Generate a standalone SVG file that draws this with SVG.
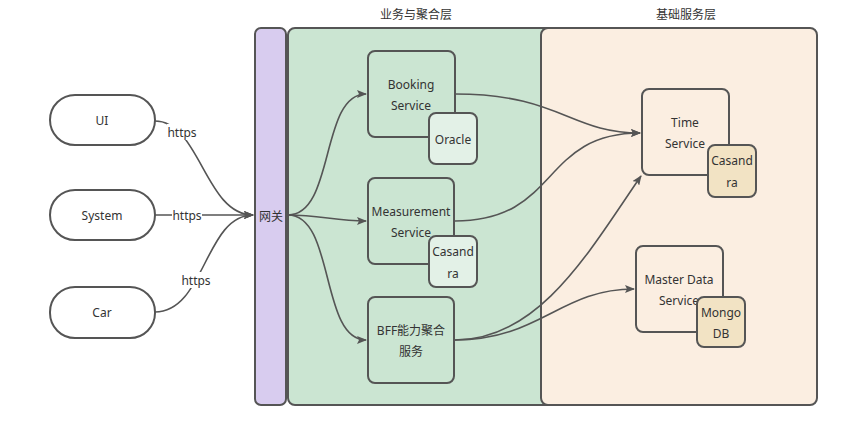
<svg xmlns="http://www.w3.org/2000/svg" width="853" height="425" viewBox="0 0 853 425">
<defs>
<marker id="arr" markerWidth="10" markerHeight="8" refX="9" refY="4" orient="auto" markerUnits="userSpaceOnUse">
<path d="M0,0 L10,4 L0,8 L2,4 Z" fill="#555"/>
</marker>
<style>
text{font-family:"Noto Sans","Noto Sans CJK SC",sans-serif;font-size:12px;fill:#333;text-anchor:middle;dominant-baseline:central}
.box{stroke:#555;stroke-width:2}
.edge{fill:none;stroke:#555;stroke-width:1.6}
.lbl{fill:#fff}
</style>
</defs>
<rect width="853" height="425" fill="#fff"/>
<text x="416" y="14">业务与聚合层</text>
<text x="686" y="14">基础服务层</text>
<g id="layer-biz"><rect class="box" x="288" y="28" width="269" height="377" rx="7" fill="#cbe5d2"/></g>
<g id="layer-base"><rect class="box" x="541" y="28" width="276" height="377" rx="7" fill="#fbeee1"/></g>
<g id="gateway"><rect class="box" x="255" y="28" width="31" height="377" rx="6" fill="#d8ccef"/><text x="271" y="216">网关</text></g>
<g id="ui"><rect class="box" x="50" y="95" width="105" height="50" rx="25" fill="#fff"/><text x="102" y="120">UI</text></g>
<g id="system"><rect class="box" x="50" y="190" width="105" height="50" rx="25" fill="#fff"/><text x="102" y="215">System</text></g>
<g id="car"><rect class="box" x="50" y="287" width="105" height="51" rx="25" fill="#fff"/><text x="102" y="312">Car</text></g>
<g id="connectors">
<path class="edge" d="M155,121 C200,121 205,215 253,215" marker-end="url(#arr)"/>
<path class="edge" d="M155,215 L253,215" marker-end="url(#arr)"/>
<path class="edge" d="M155,312 C205,312 205,215 253,215" marker-end="url(#arr)"/>
<path class="edge" d="M288,215 C335,215 320,94 366,94" marker-end="url(#arr)"/>
<path class="edge" d="M288,215 C320,215 335,221 366,221" marker-end="url(#arr)"/>
<path class="edge" d="M288,215 C335,215 320,340 366,340" marker-end="url(#arr)"/>
<path class="edge" d="M455,94 C560,94 570,133 640,133" marker-end="url(#arr)"/>
<path class="edge" d="M455,221 C560,221 540,133 640,133" marker-end="url(#arr)"/>
<path class="edge" d="M455,340 C540,340 590,250 641,176" marker-end="url(#arr)"/>
<path class="edge" d="M455,340 C540,340 560,289 634,289" marker-end="url(#arr)"/>
<rect class="lbl" x="167" y="124" width="30" height="16"/>
<text x="182" y="132">https</text>
<rect class="lbl" x="172" y="207" width="30" height="16"/>
<text x="187" y="215">https</text>
<rect class="lbl" x="181" y="272" width="30" height="16"/>
<text x="196" y="280">https</text>
</g>
<g id="booking"><rect class="box" x="368" y="51" width="87" height="86" rx="7" fill="#cbe5d2"/><text x="411" y="84">Booking</text><text x="411" y="105">Service</text></g>
<g id="oracle"><rect class="box" x="429" y="113" width="48" height="51" rx="7" fill="#e3f1e7"/><text x="453" y="139">Oracle</text></g>
<g id="measurement"><rect class="box" x="368" y="178" width="86" height="86" rx="7" fill="#cbe5d2"/><text x="411" y="211">Measurement</text><text x="411" y="232">Service</text></g>
<g id="casandra1"><rect class="box" x="429" y="236" width="48" height="51" rx="7" fill="#e3f1e7"/><text x="453" y="251">Casand</text><text x="453" y="273">ra</text></g>
<g id="bff"><rect class="box" x="368" y="297" width="86" height="86" rx="7" fill="#cbe5d2"/><text x="411" y="330">BFF能力聚合</text><text x="411" y="351">服务</text></g>
<g id="time"><rect class="box" x="642" y="89" width="87" height="86" rx="7" fill="#fbeee1"/><text x="685" y="122">Time</text><text x="685" y="143">Service</text></g>
<g id="casandra2"><rect class="box" x="708" y="145" width="48" height="52" rx="7" fill="#f2e3c4"/><text x="732" y="160">Casand</text><text x="732" y="182">ra</text></g>
<g id="master"><rect class="box" x="636" y="246" width="87" height="86" rx="7" fill="#fbeee1"/><text x="679" y="279">Master Data</text><text x="679" y="300">Service</text></g>
<g id="mongo"><rect class="box" x="697" y="297" width="48" height="50" rx="7" fill="#f2e3c4"/><text x="721" y="312">Mongo</text><text x="721" y="333">DB</text></g>
</svg>
